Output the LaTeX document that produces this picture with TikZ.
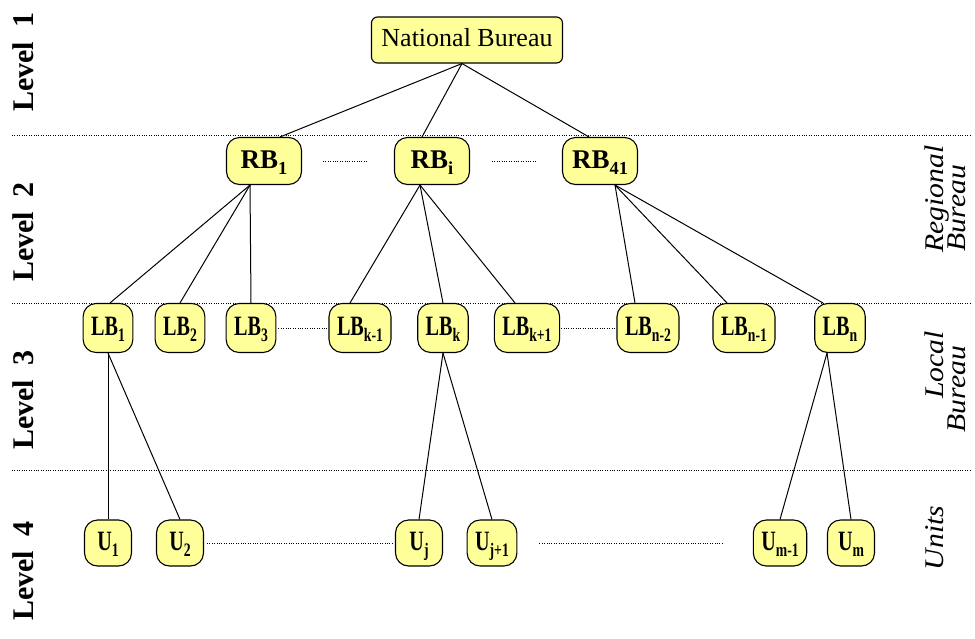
\documentclass[tikz,border=0pt]{standalone}
\usepackage{fontspec}
\IfFontExistsTF{LiberationSerif-Regular.ttf}{%
	\setmainfont{LiberationSerif}[Extension=.ttf,UprightFont=*-Regular,BoldFont=*-Bold,ItalicFont=*-Italic,BoldItalicFont=*-BoldItalic]
	\newfontfamily\etroit{LiberationSerif}[Extension=.ttf,UprightFont=*-Regular,BoldFont=*-Bold,FakeStretch=0.72]
	\newfontfamily\allonge{LiberationSerif}[Extension=.ttf,UprightFont=*-Regular,ItalicFont=*-Italic,FakeStretch=1.1]
}{%
	\setmainfont{Liberation Serif}
	\newfontfamily\etroit[FakeStretch=0.72]{Liberation Serif}
	\newfontfamily\allonge[FakeStretch=1.1]{Liberation Serif}
}
\definecolor{jaune}{HTML}{FFFF99}
\newcommand{\bas}[1]{\raisebox{-0.22em}{\scalebox{0.68}{#1}}}
\begin{document}
\begin{tikzpicture}[x=1pt,y=-1pt,
	boite/.style={draw,line width=1.1pt,fill=jaune,rounded corners=13pt,inner sep=0pt,text height=19pt,text depth=4pt},
	rb/.style={boite,minimum width=75pt,minimum height=47pt,font=\fontsize{27}{29}\selectfont\bfseries},
	lb/.style={boite,minimum width=47pt,minimum height=49pt,inner xsep=8pt,font=\fontsize{28}{30}\etroit\bfseries},
	trait/.style={line width=1pt},
	pointille/.style={line width=0.8pt,dash pattern=on 1pt off 1.4pt},
	niveau/.style={rotate=90,anchor=base,font=\fontsize{30}{32}\selectfont\bfseries},
	legende/.style={rotate=90,anchor=base,font=\fontsize{27}{29}\allonge\itshape}]
		\useasboundingbox (0,0) rectangle (975,638);
		%noeuds
		\node[boite,rounded corners=6pt,minimum width=191pt,minimum height=46pt,text height=18pt,text depth=5pt,font=\fontsize{26}{28}\selectfont] (nb) at (467,40) {National Bureau};
		\node[rb] (rb1) at (264,161) {RB\bas{1}};
		\node[rb] (rbi) at (432,161) {RB\bas{i}};
		\node[rb] (rb41) at (600,161) {RB\bas{41}};
		\node[lb] (lb1) at (108,328) {LB\bas{1}};
		\node[lb] (lb2) at (180,328) {LB\bas{2}};
		\node[lb] (lb3) at (251,328) {LB\bas{3}};
		\node[lb] (lbk1) at (360,328) {LB\bas{k-1}};
		\node[lb] (lbk) at (443,328) {LB\bas{k}};
		\node[lb] (lbk2) at (527,328) {LB\bas{k+1}};
		\node[lb] (lbn2) at (648,328) {LB\bas{n-2}};
		\node[lb] (lbn1) at (744,328) {LB\bas{n-1}};
		\node[lb] (lbn) at (840,328) {LB\bas{n}};
		\node[lb,minimum height=46pt] (u1) at (108,543) {U\bas{1}};
		\node[lb,minimum height=46pt] (u2) at (180,543) {U\bas{2}};
		\node[lb,minimum height=46pt] (uj) at (419,543) {U\bas{j}};
		\node[lb,minimum height=46pt] (uj1) at (492,543) {U\bas{j+1}};
		\node[lb,minimum height=46pt] (um1) at (780,543) {U\bas{m-1}};
		\node[lb,minimum height=46pt] (um) at (851,543) {U\bas{m}};
		%liens
		\draw[trait] ([xshift=-5pt]nb.south) -- ([xshift=16pt]rb1.north);
		\draw[trait] ([xshift=-5pt]nb.south) -- ([xshift=-10pt]rbi.north);
		\draw[trait] ([xshift=-5pt]nb.south) -- ([xshift=-11pt]rb41.north);
		\draw[trait] ([xshift=-14pt]rb1.south) -- ([xshift=2pt]lb1.north);
		\draw[trait] ([xshift=-14pt]rb1.south) -- (lb2.north);
		\draw[trait] ([xshift=-14pt]rb1.south) -- (lb3.north);
		\draw[trait] ([xshift=-12pt]rbi.south) -- ([xshift=-10pt]lbk1.north);
		\draw[trait] ([xshift=-12pt]rbi.south) -- (lbk.north);
		\draw[trait] ([xshift=-12pt]rbi.south) -- ([xshift=-12pt]lbk2.north);
		\draw[trait] ([xshift=15pt]rb41.south) -- ([xshift=-13pt]lbn2.north);
		\draw[trait] ([xshift=15pt]rb41.south) -- ([xshift=-17pt]lbn1.north);
		\draw[trait] ([xshift=15pt]rb41.south) -- ([xshift=-17pt]lbn.north);
		\draw[trait] (lb1.south) -- (u1.north);
		\draw[trait] (lb1.south) -- (u2.north);
		\draw[trait] (lbk.south) -- (uj.north);
		\draw[trait] (lbk.south) -- (uj1.north);
		\draw[trait] ([xshift=-13pt]lbn.south) -- (um1.north);
		\draw[trait] ([xshift=-13pt]lbn.south) -- (um.north);
		\draw[pointille,shorten <=21pt,shorten >=27pt] (rb1) -- (rbi);
		\draw[pointille,shorten <=22pt,shorten >=26pt] (rbi) -- (rb41);
		\draw[pointille,shorten <=2pt,shorten >=2pt] (lb3) -- (lbk1);
		\draw[pointille,shorten <=1pt,shorten >=2pt] (lbk2) -- (lbn2);
		\draw[pointille,shorten <=3pt,shorten >=2pt] (u2) -- (uj);
		\draw[pointille,shorten <=22pt,shorten >=29pt] (uj1) -- (um1);
		%niveaux
		\draw[pointille] (12,135) -- (970,135);
		\draw[pointille] (12,303) -- (970,303);
		\draw[pointille] (12,470) -- (970,470);
		\node[niveau] (n1) at (33,62) {Level\ \ 1};
		\node[niveau] (n2) at (33,232) {Level\ \ 2};
		\node[niveau] (n3) at (33,400) {Level\ \ 3};
		\node[niveau] (n4) at (33,571) {Level\ \ 4};
		%décorations
		\node[legende] (l1) at (943,199) {Regional};
		\node[legende] (l2) at (965,208) {Bureau};
		\node[legende] (l3) at (943,365) {Local};
		\node[legende] (l4) at (965,389) {Bureau};
		\node[legende] (l5) at (943,538) {Units};
	\end{tikzpicture}
\end{document}
